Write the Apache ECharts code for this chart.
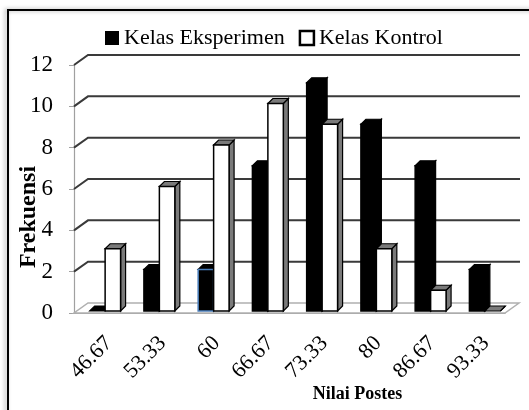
<!DOCTYPE html>
<html>
<head>
<meta charset="utf-8">
<script src="https://cdn.jsdelivr.net/npm/echarts@6/dist/echarts.min.js"></script>
<style>
  html, body { margin: 0; padding: 0; background: #fff; }
  #main { width: 529px; height: 410px; }
</style>
</head>
<body>
<div id="main"></div>
<script>
  const categories = ['46.67', '53.33', '60', '66.67', '73.33', '80', '86.67', '93.33']
  const eksperimen = [0, 2, 2, 7, 11, 9, 7, 2]
  const kontrol = [3, 6, 8, 10, 9, 3, 1, 0]
  const yTicks = [0, 2, 4, 6, 8, 10, 12]

  const FONT = '"Liberation Serif", "Times New Roman", serif'
  const DEPTH = 5

  // back wall offset from the front axis
  const WALL_DX = 14
  const WALL_DY = -10

  function renderWall(params, api) {
    const v = api.value(1)
    const y = api.coord([0, v])[1]
    const cs = params.coordSys
    const x0 = cs.x
    const x1 = cs.x + cs.width
    if (v === 0) {
      return {
        type: 'polygon',
        shape: { points: [[x0, y], [x1, y], [x1 + WALL_DX, y + WALL_DY], [x0 + WALL_DX, y + WALL_DY]] },
        style: { fill: '#fff', stroke: '#b0b0b0', lineWidth: 1.5 },
      }
    }
    return {
      type: 'polyline',
      shape: { points: [[x0, y], [x0 + WALL_DX, y + WALL_DY], [x1 + 15, y + WALL_DY]] },
      style: { fill: null, stroke: '#3a3a3a', lineWidth: 2 },
    }
  }

  function barRenderer(side, frontFill, faceFill) {
    return function (params, api) {
      const i = api.value(0)
      const v = api.value(1)
      const top = api.coord([i, v])
      const base = api.coord([i, 0])
      const bw = api.size([1, 0])[0] * 0.285
      const x = side === 0 ? top[0] - bw : top[0]
      const y = top[1]
      const y0 = base[1]
      const stroke = api.style().stroke || '#000'
      const d = DEPTH
      const children = [
        {
          type: 'polygon',
          shape: { points: [[x + bw, y], [x + bw + d, y - d], [x + bw + d, y0 - d], [x + bw, y0]] },
          style: { fill: faceFill, stroke: '#000', lineWidth: 1.2 },
        },
        {
          type: 'polygon',
          shape: { points: [[x, y], [x + d, y - d], [x + bw + d, y - d], [x + bw, y]] },
          style: { fill: faceFill, stroke: '#000', lineWidth: 1.2 },
        },
      ]
      if (v > 0) {
        children.push({
          type: 'rect',
          shape: { x, y, width: bw, height: y0 - y },
          style: { fill: frontFill, stroke, lineWidth: 1.5 },
        })
      }
      return { type: 'group', children }
    }
  }

  const legendText = { fontFamily: FONT, fontSize: 22, color: '#000' }

  const chart = echarts.init(document.getElementById('main'))

  chart.setOption({
    animation: false,
    textStyle: { fontFamily: FONT, color: '#000' },
    graphic: [
      {
        type: 'rect',
        shape: { x: 8, y: 10, width: 540, height: 420 },
        style: {
          fill: null,
          stroke: '#000',
          lineWidth: 2,
          shadowBlur: 4,
          shadowColor: 'rgba(0,0,0,0.35)',
          shadowOffsetX: -2,
        },
        z: -10,
      },
    ],
    legend: {
      left: 100,
      top: 22,
      itemWidth: 14,
      itemHeight: 14,
      itemGap: 14,
      textStyle: legendText,
      data: [
        { name: 'Kelas Eksperimen', icon: 'rect', textStyle: legendText, itemStyle: { color: '#000', borderWidth: 0 } },
        {
          name: 'Kelas Kontrol',
          icon: 'rect',
          textStyle: legendText,
          itemStyle: { color: '#fff', borderColor: '#000', borderWidth: 2.5 },
        },
      ],
    },
    grid: [
      // front axes
      { left: 74, width: 431, top: 65, height: 248 },
      // bar plane
      { left: 78, width: 434, top: 62, height: 249 },
      // category labels
      { left: 82, width: 431, top: 65, height: 248 },
    ],
    xAxis: [
      {
        type: 'category',
        gridIndex: 0,
        data: categories,
        name: 'Nilai Postes',
        nameLocation: 'middle',
        nameGap: 72,
        nameMoveOverlap: false,
        nameTextStyle: { fontFamily: FONT, fontSize: 18, fontWeight: 'bold', padding: [0, 0, 0, 136] },
        axisLine: { lineStyle: { color: '#a0a0a0', width: 1.2 } },
        axisTick: { length: 7, lineStyle: { color: '#a0a0a0' } },
        axisLabel: { show: false },
        splitLine: { show: false },
      },
      { type: 'category', gridIndex: 1, data: categories, show: false },
      {
        type: 'category',
        gridIndex: 2,
        data: categories,
        axisLine: { show: false },
        axisTick: { show: false },
        axisLabel: { rotate: 45, margin: 27, fontSize: 22, color: '#000', fontFamily: FONT },
        splitLine: { show: false },
      },
    ],
    yAxis: [
      {
        type: 'value',
        gridIndex: 0,
        min: 0,
        max: 12,
        interval: 2,
        name: 'Frekuensi',
        nameLocation: 'middle',
        nameGap: 33,
        nameMoveOverlap: false,
        nameTextStyle: { fontFamily: FONT, fontSize: 24, fontWeight: 'bold', padding: [0, 56, 0, 0] },
        axisLine: { show: true, lineStyle: { color: '#a0a0a0', width: 1.2 } },
        axisTick: { show: true, length: 5, lineStyle: { color: '#a0a0a0' } },
        axisLabel: { margin: 21, fontSize: 23, color: '#000', fontFamily: FONT },
        splitLine: { show: false },
      },
      { type: 'value', gridIndex: 1, min: 0, max: 12, interval: 2, show: false },
      { type: 'value', gridIndex: 2, min: 0, max: 12, interval: 2, show: false },
    ],
    series: [
      {
        type: 'custom',
        name: 'wall',
        xAxisIndex: 0,
        yAxisIndex: 0,
        silent: true,
        z: 1,
        renderItem: renderWall,
        data: yTicks.map((v) => [0, v]),
      },
      {
        type: 'custom',
        name: 'Kelas Eksperimen',
        xAxisIndex: 1,
        yAxisIndex: 1,
        z: 3,
        itemStyle: { color: '#000', borderColor: '#000' },
        renderItem: barRenderer(0, '#000', '#000'),
        data: eksperimen.map((v, i) =>
          i === 2 ? { value: [i, v], itemStyle: { borderColor: '#4a7ebb' } } : [i, v]
        ),
      },
      {
        type: 'custom',
        name: 'Kelas Kontrol',
        xAxisIndex: 1,
        yAxisIndex: 1,
        z: 4,
        itemStyle: { color: '#fff', borderColor: '#000' },
        renderItem: barRenderer(1, '#fff', '#7a7a7a'),
        data: kontrol.map((v, i) => [i, v]),
      },
    ],
  })
</script>
</body>
</html>
